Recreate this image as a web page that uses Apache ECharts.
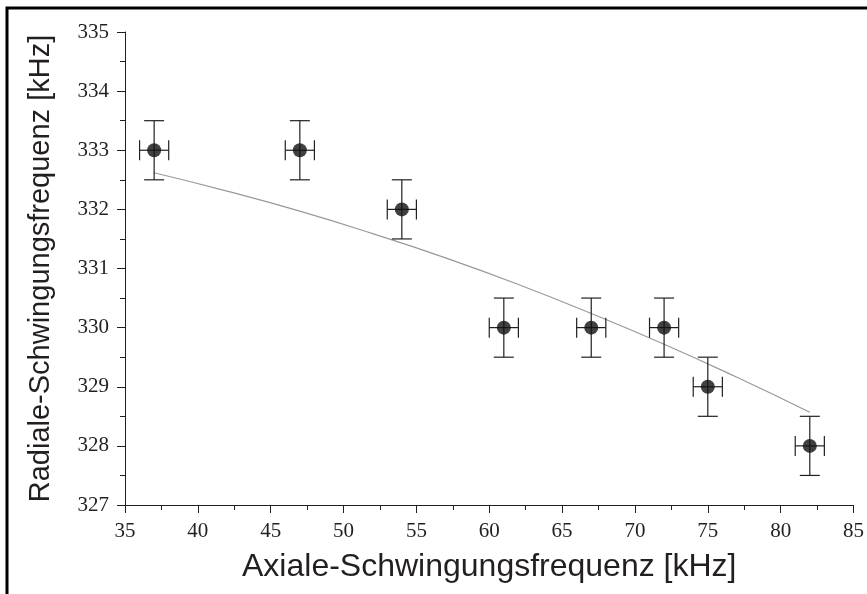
<!DOCTYPE html>
<html>
<head>
<meta charset="utf-8">
<script src="https://cdn.jsdelivr.net/npm/echarts@6/dist/echarts.min.js"></script>
<style>html,body{margin:0;padding:0;background:#fff;}#c{width:867px;height:594px;}</style>
</head>
<body>
<div id="c"></div>
<script>
const axialFreq = [37, 47, 54, 61, 67, 72, 75, 82];
const radialFreq = [333, 333, 332, 330, 330, 330, 329, 328];
const xErr = [1, 1, 1, 1, 1, 1, 1, 1];
const yErr = [0.5, 0.5, 0.5, 0.5, 0.5, 0.5, 0.5, 0.5];
const fitX = [37, 42, 47, 52, 57, 62, 67, 72, 77, 82];
const fitY = [332.62, 332.31, 331.97, 331.59, 331.18, 330.73, 330.24, 329.72, 329.16, 328.57];
const xTitle = 'Axiale-Schwingungsfrequenz [kHz]';
const yTitle = 'Radiale-Schwingungsfrequenz [kHz]';

const chart = echarts.init(document.getElementById('c'), null, {renderer: 'canvas'});
const errData = axialFreq.map((x, i) => [x, radialFreq[i], xErr[i], yErr[i]]);
const barColor = '#231f20';
const option = {
  backgroundColor: '#fff',
  animation: false,
  grid: {left: 125, right: 13, top: 32, bottom: 89},
  xAxis: {
    type: 'value', min: 35, max: 85, interval: 5,
    axisLine: {show: true, lineStyle: {color: '#231f20', width: 1}},
    axisTick: {show: true, length: 8, lineStyle: {color: '#231f20'}},
    minorTick: {show: true, splitNumber: 2, length: 5, lineStyle: {color: '#231f20'}},
    splitLine: {show: false},
    axisLabel: {fontFamily: 'Liberation Serif', fontSize: 21, color: '#231f20', margin: 16},
    name: xTitle, nameLocation: 'middle', nameGap: 46,
    nameTextStyle: {fontFamily: 'Liberation Sans', fontSize: 32, color: '#231f20'}
  },
  yAxis: {
    type: 'value', min: 327, max: 335, interval: 1,
    axisLine: {show: true, lineStyle: {color: '#231f20', width: 1}},
    axisTick: {show: true, length: 8, lineStyle: {color: '#231f20'}},
    minorTick: {show: true, splitNumber: 2, length: 5, lineStyle: {color: '#231f20'}},
    splitLine: {show: false},
    axisLabel: {fontFamily: 'Liberation Serif', fontSize: 21, color: '#231f20', margin: 16},
    name: yTitle, nameLocation: 'middle', nameGap: 70, nameRotate: 90,
    nameTextStyle: {fontFamily: 'Liberation Sans', fontSize: 29, color: '#231f20'}
  },
  graphic: [
    {type: 'polyline', shape: {points: [[7, 594], [7, 8], [867, 8]]}, style: {stroke: '#000', lineWidth: 3, fill: null}, z: 100}
  ],
  series: [
    {
      type: 'line', data: fitX.map((x, i) => [x, fitY[i]]), smooth: true,
      showSymbol: false, lineStyle: {color: '#999', width: 1.2}, z: 1
    },
    {
      type: 'custom', z: 2,
      renderItem: function (params, api) {
        const x = api.value(0), y = api.value(1), ex = api.value(2), ey = api.value(3);
        const c = api.coord([x, y]);
        const top = api.coord([x, y + ey]);
        const bot = api.coord([x, y - ey]);
        const lft = api.coord([x - ex, y]);
        const rgt = api.coord([x + ex, y]);
        const capY = 10, capX = 10;
        const st = {stroke: barColor, lineWidth: 1.2};
        return {
          type: 'group',
          children: [
            {type: 'line', shape: {x1: c[0], y1: top[1], x2: c[0], y2: bot[1]}, style: st},
            {type: 'line', shape: {x1: c[0] - capY, y1: top[1], x2: c[0] + capY, y2: top[1]}, style: st},
            {type: 'line', shape: {x1: c[0] - capY, y1: bot[1], x2: c[0] + capY, y2: bot[1]}, style: st},
            {type: 'line', shape: {x1: lft[0], y1: c[1], x2: rgt[0], y2: c[1]}, style: st},
            {type: 'line', shape: {x1: lft[0], y1: c[1] - capX, x2: lft[0], y2: c[1] + capX}, style: st},
            {type: 'line', shape: {x1: rgt[0], y1: c[1] - capX, x2: rgt[0], y2: c[1] + capX}, style: st}
          ]
        };
      },
      data: errData
    },
    {
      type: 'scatter', data: axialFreq.map((x, i) => [x, radialFreq[i]]),
      symbol: 'circle', symbolSize: 14, itemStyle: {color: '#111'}, z: 3
    }
  ]
};
chart.setOption(option);
</script>
</body>
</html>
